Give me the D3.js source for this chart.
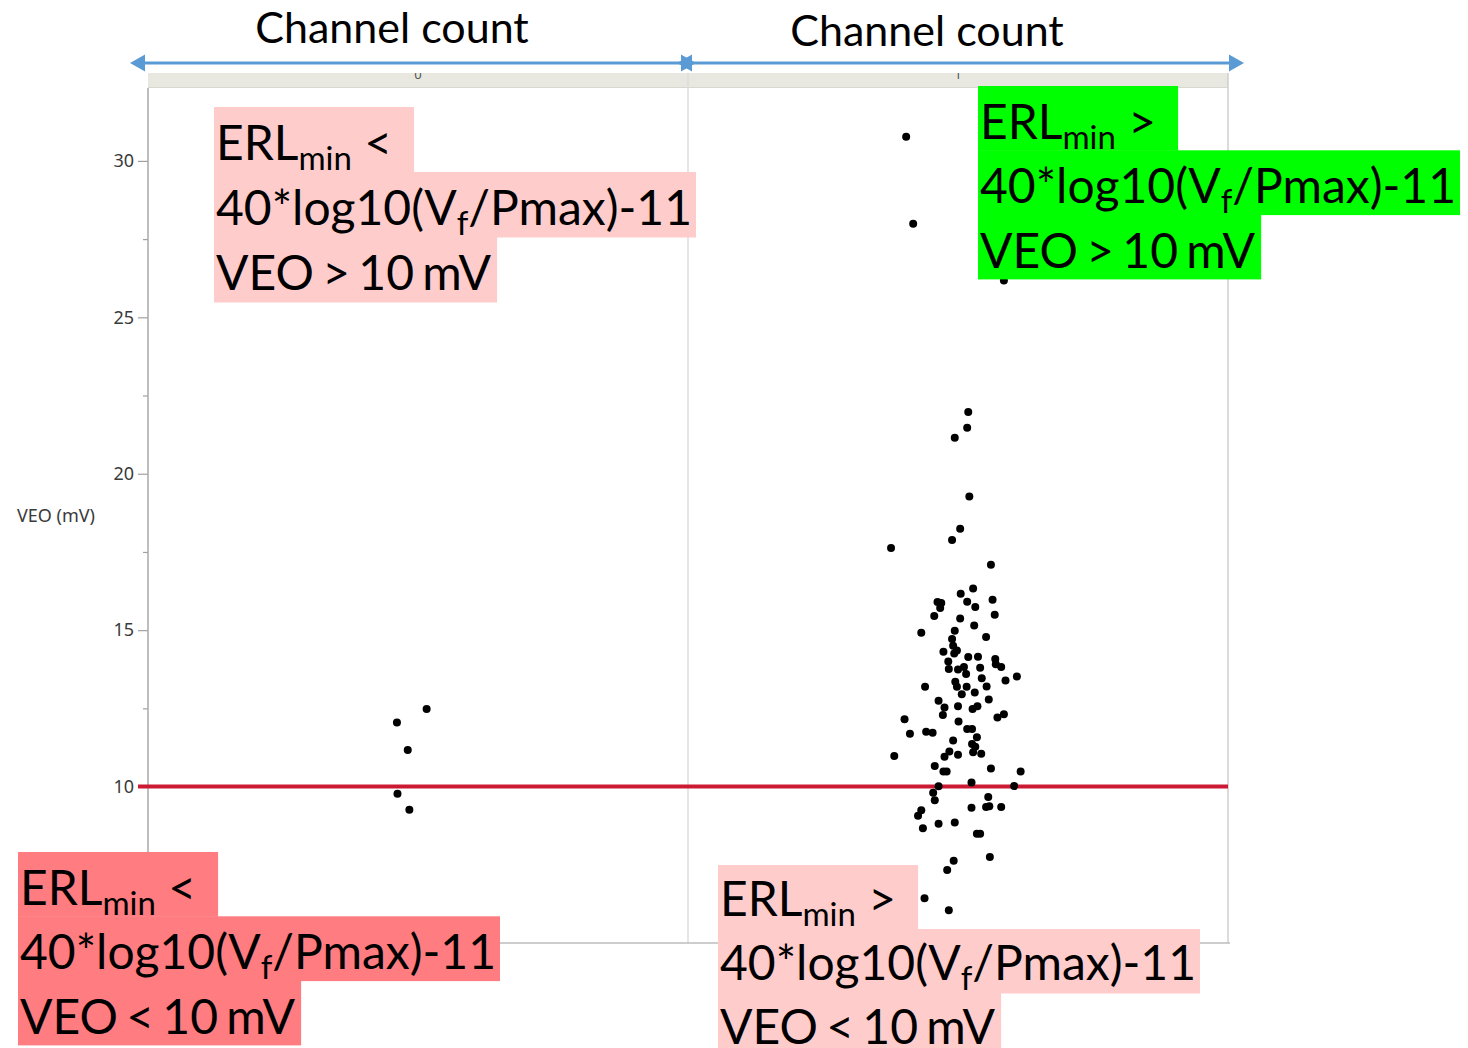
<!DOCTYPE html>
<html>
<head>
<meta charset="utf-8">
<script src="https://cdn.jsdelivr.net/npm/d3@7"></script>
<style>
  html, body { margin: 0; padding: 0; background: #fff; }
  svg { display: block; }
</style>
</head>
<body>
<svg id="chart" width="1468" height="1048"></svg>
<script>
// channel count categories shown on the top band
var categories = [0, 1];

// channel count = 0 (horizontal jitter in category units, VEO in mV)
var ch0Jitter = [0.016, -0.039, -0.019, -0.038, -0.016];
var ch0Veo    = [12.48, 12.05, 11.17, 9.77, 9.26];

// channel count = 1
var ch1Jitter = [
  -0.096, -0.083, 0.085, 0.019, 0.017, -0.006, 0.021, 0.004, -0.011, -0.124,
  0.061, 0.028, 0.005, -0.038, -0.031, 0.017, 0.064, -0.033, 0.032, -0.044,
  0.068, 0.004, 0.030, -0.068, -0.006, 0.052, -0.011, -0.009, -0.002, -0.027,
  -0.007, 0.019, 0.037, -0.018, 0.069, 0.070, 0.080, -0.017, 0.000, 0.011,
  0.015, 0.041, 0.109, 0.088, 0.044, -0.005, -0.061, -0.002, 0.016, 0.053,
  0.007, 0.031, -0.036, 0.057, -0.025, 0.000, 0.027, 0.036, -0.099, -0.028,
  0.073, 0.085, 0.001, -0.089, -0.059, -0.047, 0.017, 0.026, 0.035, -0.009,
  0.026, 0.032, -0.016, -0.025, 0.000, 0.028, 0.043, -0.118, -0.043, -0.027,
  -0.021, 0.061, 0.116, 0.025, -0.036, 0.104, -0.046, -0.043, 0.056, 0.025,
  0.052, 0.058, 0.080, -0.068, -0.074, -0.036, -0.006, -0.065, 0.035, 0.041,
  0.059, -0.008, -0.020, -0.062, -0.017
];
var ch1Veo = [
  30.77, 27.99, 26.18, 21.97, 21.47, 21.15, 19.27, 18.24, 17.88, 17.63,
  17.09, 16.33, 16.16, 15.90, 15.87, 15.91, 15.97, 15.71, 15.74, 15.45,
  15.49, 15.37, 15.15, 14.92, 14.98, 14.78, 14.72, 14.50, 14.35, 14.31,
  14.25, 14.14, 14.15, 14.00, 14.08, 13.91, 13.82, 13.76, 13.74, 13.82,
  13.60, 13.80, 13.52, 13.39, 13.46, 13.35, 13.19, 13.19, 13.19, 13.20,
  12.95, 13.01, 12.74, 12.78, 12.53, 12.57, 12.48, 12.57, 12.15, 12.29,
  12.21, 12.31, 12.08, 11.69, 11.75, 11.72, 11.84, 11.84, 11.58, 11.47,
  11.36, 11.27, 11.12, 10.95, 11.02, 11.10, 11.05, 10.98, 10.66, 10.48,
  10.48, 10.58, 10.48, 10.13, 10.01, 10.02, 9.80, 9.56, 9.67, 9.32,
  9.35, 9.37, 9.35, 9.24, 9.07, 8.81, 8.85, 8.67, 8.49, 8.49,
  7.75, 7.63, 7.33, 6.43, 6.05
];

var majorTicks = [10, 15, 20, 25, 30];
var minorTicks = [7.5, 12.5, 17.5, 22.5, 27.5];
var threshold = 10;
var axisTitle = "VEO (mV)";
var groupTitle = "Channel count";

// annotation texts, each line is a list of [text, isSubscript]
var labelTL = [[["ERL",0],["min",1],[" <",0]], [["40*log10(V",0],["f",1],["/Pmax)-11",0]], [["VEO > 10 mV",0]]];
var labelTR = [[["ERL",0],["min",1],[" >",0]], [["40*log10(V",0],["f",1],["/Pmax)-11",0]], [["VEO > 10 mV",0]]];
var labelBL = [[["ERL",0],["min",1],[" <",0]], [["40*log10(V",0],["f",1],["/Pmax)-11",0]], [["VEO < 10 mV",0]]];
var labelBR = [[["ERL",0],["min",1],[" >",0]], [["40*log10(V",0],["f",1],["/Pmax)-11",0]], [["VEO < 10 mV",0]]];

var svg = d3.select("#chart");

var plotLeft = 148, plotRight = 1228, plotTop = 88, plotBottom = 943;

var x = d3.scaleLinear().domain([-0.5, 1.5]).range([plotLeft, plotRight]);
var y = d3.scaleLinear().domain([5, 32.33]).range([plotBottom, plotTop]);

// header band with category labels
var band = svg.append("g");
band.append("rect")
  .attr("x", plotLeft).attr("y", 73)
  .attr("width", plotRight - plotLeft).attr("height", plotTop - 73)
  .attr("fill", "#e8e8e0");
band.append("line")
  .attr("x1", plotLeft).attr("x2", plotRight)
  .attr("y1", plotTop - 0.5).attr("y2", plotTop - 0.5)
  .attr("stroke", "#d8d8d0");
svg.append("clipPath").attr("id", "bandClip")
  .append("rect").attr("x", plotLeft).attr("y", 73)
  .attr("width", plotRight - plotLeft).attr("height", plotTop - 73);
band.append("g").attr("clip-path", "url(#bandClip)")
  .selectAll("text").data(categories).enter().append("text")
  .attr("x", function(d){ return x(d); })
  .attr("y", 79)
  .attr("text-anchor", "middle")
  .attr("font-family", "Noto Sans, sans-serif")
  .attr("font-size", 13)
  .attr("fill", "#555")
  .text(function(d){ return d; });

// frame, divider
svg.append("line").attr("x1", x(0.5)).attr("x2", x(0.5))
  .attr("y1", 73).attr("y2", plotBottom).attr("stroke", "#dcdcdc").attr("stroke-width", 1.5);
svg.append("line").attr("x1", plotRight).attr("x2", plotRight)
  .attr("y1", 73).attr("y2", plotBottom).attr("stroke", "#cfcfcf").attr("stroke-width", 1.5);
svg.append("line").attr("x1", plotLeft).attr("x2", plotRight + 2)
  .attr("y1", plotBottom).attr("y2", plotBottom).attr("stroke", "#bdbdbd").attr("stroke-width", 1.5);

// y axis
var yAxis = d3.axisLeft(y).tickValues(majorTicks).tickSize(10).tickPadding(4);
var gy = svg.append("g").attr("transform", "translate(" + plotLeft + ",0)").call(yAxis);
gy.select(".domain").remove();
gy.selectAll(".tick line").attr("stroke", "#a0a0a0").attr("stroke-width", 1.2);
gy.selectAll(".tick text")
  .attr("font-family", "Noto Sans, sans-serif")
  .attr("font-size", 18)
  .attr("fill", "#3a3a3a");
var yMinor = d3.axisLeft(y).tickValues(minorTicks).tickSize(5).tickFormat("");
var gm = svg.append("g").attr("transform", "translate(" + plotLeft + ",0)").call(yMinor);
gm.select(".domain").remove();
gm.selectAll(".tick line").attr("stroke", "#a0a0a0").attr("stroke-width", 1.2);
svg.append("line").attr("x1", plotLeft).attr("x2", plotLeft)
  .attr("y1", plotTop).attr("y2", plotBottom)
  .attr("stroke", "#a8a8a8").attr("stroke-width", 1.5);

svg.append("text")
  .attr("x", 17).attr("y", 522)
  .attr("font-family", "Noto Sans, sans-serif")
  .attr("font-size", 18)
  .attr("fill", "#3a3a3a")
  .text(axisTitle);

// threshold line
svg.append("line")
  .attr("x1", plotLeft - 10).attr("x2", plotRight)
  .attr("y1", y(threshold)).attr("y2", y(threshold))
  .attr("stroke", "#cc1a35").attr("stroke-width", 4);

// points
function drawPoints(cat, jit, vals){
  svg.append("g").selectAll("circle")
    .data(vals).enter().append("circle")
    .attr("cx", function(d, i){ return x(cat + jit[i]); })
    .attr("cy", function(d){ return y(d); })
    .attr("r", 4)
    .attr("fill", "#000");
}
drawPoints(categories[0], ch0Jitter, ch0Veo);
drawPoints(categories[1], ch1Jitter, ch1Veo);

// blue double arrows over each category
var arrowY = 63;
function arrowHead(tipX, dir){
  var l = 15, h = 8.5;
  return "M" + tipX + "," + arrowY + "L" + (tipX + dir * l) + "," + (arrowY - h) +
    "L" + (tipX + dir * l) + "," + (arrowY + h) + "Z";
}
function doubleArrow(x1, x2){
  var g = svg.append("g");
  g.append("line").attr("x1", x1 + 8).attr("x2", x2 - 8)
    .attr("y1", arrowY).attr("y2", arrowY)
    .attr("stroke", "#5b9bd5").attr("stroke-width", 3);
  g.append("path").attr("d", arrowHead(x1, 1)).attr("fill", "#5b9bd5");
  g.append("path").attr("d", arrowHead(x2, -1)).attr("fill", "#5b9bd5");
}
doubleArrow(x(-0.5) - 18, x(0.5) + 8);
doubleArrow(x(0.5) - 11, x(1.5) + 16);

svg.selectAll(".grpTitle").data([[392, 43], [927, 46]]).enter().append("text")
  .attr("class", "grpTitle")
  .attr("x", function(d){ return d[0]; })
  .attr("y", function(d){ return d[1]; })
  .attr("text-anchor", "middle")
  .attr("font-family", "Lato, sans-serif")
  .attr("font-size", 43)
  .attr("fill", "#000")
  .text(groupTitle);

// highlighted annotation blocks
function drawLabel(lines, tx, top, rowH, fill, pads, base){
  var g = svg.append("g");
  var rects = g.append("g");
  lines.forEach(function(parts, li){
    var rowTop = top + li * rowH;
    var t = g.append("text")
      .attr("x", tx).attr("y", rowTop + base)
      .attr("font-family", "Lato, sans-serif")
      .attr("font-size", 48)
      .attr("fill", "#000");
    if(li == 2) t.attr("word-spacing", -4);
    var shifted = false;
    parts.forEach(function(p){
      var s = t.append("tspan").text(p[0]);
      if(p[1]){
        s.attr("font-size", 33).attr("dy", 10);
        shifted = true;
      }else if(shifted){
        s.attr("dy", -10);
        shifted = false;
      }
    });
    var w = t.node().getComputedTextLength();
    rects.append("rect")
      .attr("x", tx - 2).attr("y", rowTop)
      .attr("width", w + 2 + pads[li]).attr("height", rowH + 0.5)
      .attr("fill", fill);
  });
}
var pads = [22, 4, 6];
drawLabel(labelTL, 216, 107, 65, "#ffcccc", pads, 53);
drawLabel(labelTR, 980, 86, 64.3, "#00ff00", pads, 53);
drawLabel(labelBL, 20, 852, 64.3, "#ff7c80", pads, 53);
drawLabel(labelBR, 720, 865, 64, "#ffcccc", pads, 51);
</script>
</body>
</html>
